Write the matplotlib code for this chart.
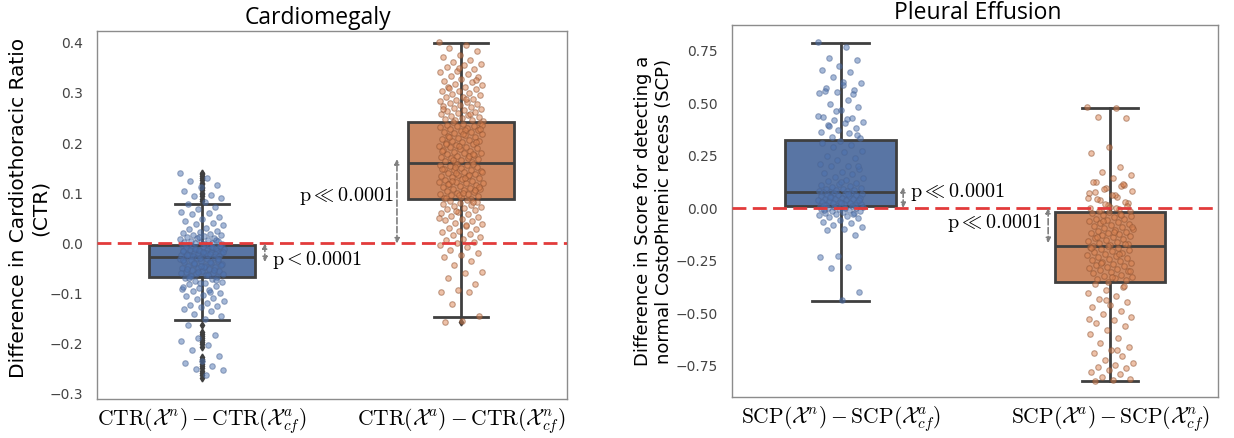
import numpy as np
import matplotlib.pyplot as plt

plt.rcParams['mathtext.fontset'] = 'cm'
plt.rcParams['font.family'] = 'DejaVu Sans'

# ---- data ----
ctr_labels = [r'$\mathrm{CTR}(\mathcal{X}^n) - \mathrm{CTR}(\mathcal{X}^a_{cf})$',
              r'$\mathrm{CTR}(\mathcal{X}^a) - \mathrm{CTR}(\mathcal{X}^n_{cf})$']
scp_labels = [r'$\mathrm{SCP}(\mathcal{X}^n) - \mathrm{SCP}(\mathcal{X}^a_{cf})$',
              r'$\mathrm{SCP}(\mathcal{X}^a) - \mathrm{SCP}(\mathcal{X}^n_{cf})$']

# box stats: whislo, q1, med, q3, whishi
ctr_n_box = [-0.152, -0.066, -0.027, -0.003, 0.078]
ctr_a_box = [-0.146, 0.088, 0.160, 0.242, 0.400]
scp_n_box = [-0.443, 0.010, 0.076, 0.324, 0.786]
scp_a_box = [-0.824, -0.352, -0.181, -0.019, 0.476]

ctr_n_fliers = [0.085, 0.089, 0.094, 0.099, 0.101, 0.106, 0.111, 0.113, 0.118, 0.121, 0.127,
                0.13, 0.134, 0.138, 0.141, -0.162, -0.176, -0.181, -0.184, -0.188, -0.193,
                -0.197, -0.201, -0.206, -0.226, -0.231, -0.234, -0.24, -0.244, -0.249,
                -0.254, -0.258, -0.263, -0.268]
ctr_a_fliers = [-0.156]
scp_n_fliers = []
scp_a_fliers = []

ctr_n_pts = [0.14, 0.131, 0.124, 0.117, 0.113, 0.105, 0.097, 0.094, 0.09, 0.083, 0.078, 0.072,
             0.068, 0.063, 0.06, 0.058, 0.052, 0.048, 0.045, 0.041, 0.039, 0.036, 0.031, 0.029,
             0.025, 0.023, 0.021, 0.019, 0.017, 0.016, 0.014, 0.012, 0.011, 0.01, 0.008, 0.006,
             0.005, 0.004, 0.003, 0.002, 0.001, 0.0, -0.001, -0.002, -0.003, 0.007, 0.013,
             -0.004, -0.005, -0.006, -0.006, -0.008, -0.009, -0.01, -0.011, -0.011, -0.013,
             -0.014, -0.015, -0.015, -0.016, -0.018, -0.019, -0.019, -0.02, -0.021, -0.022,
             -0.022, -0.023, -0.024, -0.025, -0.025, -0.026, -0.027, -0.007, -0.012, -0.017,
             -0.02, -0.024, -0.009, -0.013, -0.016, -0.021, -0.026, -0.005, -0.018, -0.023,
             -0.028, -0.029, -0.031, -0.032, -0.034, -0.035, -0.036, -0.038, -0.039, -0.041,
             -0.042, -0.044, -0.045, -0.046, -0.048, -0.049, -0.051, -0.052, -0.054, -0.055,
             -0.057, -0.058, -0.06, -0.061, -0.063, -0.064, -0.066, -0.03, -0.033, -0.037,
             -0.04, -0.043, -0.047, -0.05, -0.053, -0.056, -0.059, -0.062, -0.065, -0.031,
             -0.044, -0.068, -0.071, -0.074, -0.076, -0.078, -0.081, -0.084, -0.088, -0.09,
             -0.092, -0.095, -0.099, -0.102, -0.105, -0.108, -0.111, -0.115, -0.118, -0.122,
             -0.125, -0.127, -0.131, -0.135, -0.14, -0.144, -0.15, -0.162, -0.183, -0.189,
             -0.195, -0.203, -0.212, -0.224, -0.234, -0.238, -0.245, -0.251, -0.253, -0.262,
             -0.068, -0.073, -0.079, -0.086, -0.097]

ctr_a_pts = [0.401, 0.396, 0.39, 0.383, 0.376, 0.372, 0.366, 0.362, 0.357, 0.355, 0.351, 0.347,
             0.343, 0.341, 0.337, 0.333, 0.331, 0.328, 0.324, 0.322, 0.318, 0.316, 0.312, 0.311,
             0.308, 0.304, 0.303, 0.3, 0.298, 0.296, 0.292, 0.291, 0.288, 0.285, 0.284, 0.282,
             0.279, 0.277, 0.275, 0.273, 0.272, 0.27, 0.267, 0.265, 0.264, 0.262, 0.259, 0.258,
             0.256, 0.253, 0.252, 0.25, 0.248, 0.246, 0.245, 0.243, 0.287, 0.309, 0.326, 0.349,
             0.268, 0.257,
             0.241, 0.239, 0.238, 0.236, 0.234, 0.233, 0.231, 0.229, 0.227, 0.226, 0.224, 0.222,
             0.221, 0.219, 0.217, 0.216, 0.214, 0.212, 0.21, 0.209, 0.207, 0.205, 0.204, 0.202,
             0.2, 0.198, 0.197, 0.195, 0.193, 0.192, 0.19, 0.188, 0.186, 0.185, 0.183, 0.181,
             0.18, 0.178, 0.176, 0.175, 0.173, 0.171, 0.17, 0.168, 0.166, 0.165, 0.163, 0.161,
             0.235, 0.225, 0.213, 0.203, 0.194, 0.184, 0.174, 0.167, 0.228, 0.218, 0.199, 0.179,
             0.159, 0.157, 0.156, 0.154, 0.152, 0.151, 0.149, 0.147, 0.146, 0.144, 0.142, 0.141,
             0.139, 0.137, 0.135, 0.134, 0.132, 0.13, 0.128, 0.127, 0.125, 0.123, 0.121, 0.12,
             0.118, 0.116, 0.115, 0.113, 0.111, 0.109, 0.108, 0.106, 0.104, 0.103, 0.101, 0.099,
             0.098, 0.096, 0.094, 0.093, 0.091, 0.089, 0.153, 0.143, 0.131, 0.119, 0.107, 0.097,
             0.148, 0.136, 0.124, 0.112, 0.1, 0.09, 0.158, 0.14, 0.122,
             0.087, 0.085, 0.083, 0.08, 0.078, 0.076, 0.074, 0.072, 0.07, 0.068, 0.066, 0.063,
             0.061, 0.058, 0.055, 0.053, 0.049, 0.047, 0.044, 0.041, 0.038, 0.035, 0.031, 0.028,
             0.025, 0.022, 0.019, 0.016, 0.012, 0.009, 0.006, 0.003, 0.0, -0.004, -0.008, -0.014,
             -0.019, -0.023, -0.027, -0.035, -0.043, -0.057, -0.058, -0.068, -0.081, -0.092,
             -0.096, -0.097, -0.121, -0.144, -0.154, -0.156, 0.082, 0.064, 0.051, 0.036]

scp_n_pts = [0.79, 0.767, 0.714, 0.705, 0.676, 0.657, 0.648, 0.624, 0.595, 0.586, 0.571, 0.562,
             0.552, 0.548, 0.514, 0.495, 0.481, 0.467, 0.433, 0.429, 0.419, 0.41, 0.405, 0.395,
             0.381, 0.371, 0.362, 0.357, 0.338, 0.333, 0.598, 0.556, 0.541, 0.463, 0.44, 0.425,
             0.39, 0.346,
             0.32, 0.31, 0.298, 0.29, 0.27, 0.265, 0.25, 0.24, 0.228, 0.21, 0.2, 0.198, 0.185,
             0.172, 0.165, 0.16, 0.15, 0.142, 0.135, 0.128, 0.12, 0.115, 0.11, 0.105, 0.1, 0.097,
             0.093, 0.09, 0.087, 0.084, 0.081, 0.079, 0.077, 0.2, 0.125,
             0.075, 0.073, 0.071, 0.069, 0.066, 0.064, 0.062, 0.06, 0.057, 0.055, 0.052, 0.05,
             0.048, 0.045, 0.043, 0.041, 0.038, 0.036, 0.034, 0.031, 0.029, 0.027, 0.025, 0.022,
             0.02, 0.018, 0.016, 0.014, 0.012, 0.011, 0.067, 0.053, 0.039, 0.024, 0.013,
             0.008, 0.006, 0.004, 0.002, 0.0, -0.002, -0.004, -0.006, -0.009, -0.012, -0.015,
             -0.019, -0.022, -0.024, -0.028, -0.033, -0.038, -0.044, -0.048, -0.055, -0.067,
             -0.071, -0.081, -0.09, -0.1, -0.105, -0.129, -0.229, -0.233, -0.281, -0.286, -0.4,
             -0.438, -0.01, -0.03]

scp_a_pts = [0.481, 0.476, 0.433, 0.429, 0.29, 0.262, 0.195, 0.171, 0.157, 0.143, 0.124, 0.11,
             0.095, 0.071, 0.052, 0.038, 0.024, 0.005, 0.125, 0.105, 0.09, 0.08, 0.062, 0.045,
             0.03, 0.015, 0.0, -0.005, -0.01, -0.015, 0.06, 0.074, 0.115, 0.02, 0.048, -0.002,
             -0.012, 0.008,
             -0.02, -0.025, -0.03, -0.035, -0.04, -0.045, -0.05, -0.054, -0.058, -0.063, -0.068,
             -0.072, -0.077, -0.082, -0.086, -0.09, -0.095, -0.1, -0.104, -0.108, -0.112, -0.117,
             -0.121, -0.126, -0.13, -0.135, -0.14, -0.144, -0.148, -0.153, -0.158, -0.162,
             -0.166, -0.171, -0.175, -0.179, -0.032, -0.06, -0.092, -0.115, -0.14, -0.17,
             -0.183, -0.187, -0.191, -0.196, -0.2, -0.205, -0.21, -0.214, -0.218, -0.223, -0.228,
             -0.232, -0.237, -0.241, -0.246, -0.25, -0.255, -0.26, -0.265, -0.27, -0.275, -0.28,
             -0.285, -0.29, -0.295, -0.3, -0.306, -0.311, -0.317, -0.322, -0.328, -0.334, -0.34,
             -0.345, -0.35, -0.19, -0.22, -0.26, -0.3, -0.33,
             -0.36, -0.376, -0.39, -0.405, -0.42, -0.435, -0.448, -0.46, -0.471, -0.49, -0.505,
             -0.519, -0.533, -0.548, -0.56, -0.58, -0.6, -0.62, -0.643, -0.662, -0.676, -0.69,
             -0.705, -0.724, -0.738, -0.748, -0.757, -0.762, -0.771, -0.78, -0.79, -0.805,
             -0.812, -0.819, -0.825, -0.37, -0.44, -0.53, -0.676]

box_colors = ['#5975a4', '#cc8963']
pt_colors = ['#4c72b0', '#dd8452']
pt_edges = ['#4a6391', '#8a4f2f']
dark = '#3f3f3f'


def draw_panel(ax, boxes, fliers, pts, labels):
    stats = []
    for b, f in zip(boxes, fliers):
        stats.append(dict(whislo=b[0], q1=b[1], med=b[2], q3=b[3], whishi=b[4], fliers=f))
    bp = ax.bxp(stats, positions=[0, 1], widths=0.41, capwidths=0.21, patch_artist=True,
                boxprops=dict(edgecolor=dark, linewidth=2),
                medianprops=dict(color=dark, linewidth=2),
                whiskerprops=dict(color=dark, linewidth=2),
                capprops=dict(color=dark, linewidth=2),
                flierprops=dict(marker='d', markersize=3.5, markerfacecolor=dark,
                                markeredgecolor=dark))
    for patch, c in zip(bp['boxes'], box_colors):
        patch.set_facecolor(c)
    # points, spread sideways like a strip plot
    for i, p in enumerate(pts):
        p = np.asarray(p)
        jit = ((np.arange(len(p)) * 0.618034) % 1 - 0.5) * 0.17
        ax.scatter(i + jit, p, s=16, facecolor=pt_colors[i], edgecolor=pt_edges[i],
                   linewidth=0.8, alpha=0.5, zorder=3)
    ax.axhline(0, color='#e23b3b', linestyle=(0, (5, 2.3)), linewidth=2, zorder=5)
    ax.set_xticks([0, 1])
    ax.set_xticklabels(labels, fontsize=15.5)
    ax.tick_params(axis='x', length=0, pad=5)
    ax.tick_params(axis='y', length=0, pad=10, labelsize=10, labelcolor='#444444')
    for s in ax.spines.values():
        s.set_color('#8c8c8c')
        s.set_linewidth(1)


def p_arrow(ax, x, y0, y1):
    ax.annotate('', xy=(x, y1), xytext=(x, y0),
                arrowprops=dict(arrowstyle='<|-|>', linestyle='--', color='#808080',
                                lw=1.2, mutation_scale=7, shrinkA=0, shrinkB=0), zorder=6)


fig = plt.figure(figsize=(12.34, 4.38), dpi=100)
ax1 = fig.add_axes([0.0786, 0.089, 0.381, 0.840])
ax2 = fig.add_axes([0.5932, 0.0936, 0.3938, 0.849])

draw_panel(ax1, [ctr_n_box, ctr_a_box], [ctr_n_fliers, ctr_a_fliers],
           [ctr_n_pts, ctr_a_pts], ctr_labels)
ax1.set_xlim(-0.405, 1.41)
ax1.set_ylim(-0.31, 0.423)
ax1.set_yticks([-0.3, -0.2, -0.1, 0.0, 0.1, 0.2, 0.3, 0.4])
ax1.set_ylabel('Difference in Cardiothoracic Ratio\n(CTR)', fontsize=14.5)
ax1.yaxis.set_label_coords(-0.1, 0.52)
ax1.set_title('Cardiomegaly', fontsize=16.5, family='Open Sans', x=0.47, pad=5)
p_arrow(ax1, 0.243, 0.0, -0.037)
ax1.text(0.27, -0.033, r'$\mathrm{p} < 0.0001$', fontsize=14.5, ha='left', va='center')
p_arrow(ax1, 0.753, 0.0, 0.168)
ax1.text(0.741, 0.094, r'$\mathrm{p} \ll 0.0001$', fontsize=14.5, ha='right', va='center')

draw_panel(ax2, [scp_n_box, scp_a_box], [scp_n_fliers, scp_a_fliers],
           [scp_n_pts, scp_a_pts], scp_labels)
ax2.set_xlim(-0.403, 1.40)
ax2.set_ylim(-0.9, 0.871)
ax2.set_yticks([-0.75, -0.5, -0.25, 0.0, 0.25, 0.5, 0.75])
ax2.set_ylabel('Difference in Score for detecting a\nnormal CostoPhrenic recess (SCP)',
               fontsize=13)
ax2.yaxis.set_label_coords(-0.122, 0.5)
ax2.set_title('Pleural Effusion', fontsize=16.5, family='Open Sans', x=0.506, pad=3)
p_arrow(ax2, 0.232, 0.0, 0.1)
ax2.text(0.258, 0.076, r'$\mathrm{p} \ll 0.0001$', fontsize=14.5, ha='left', va='center')
p_arrow(ax2, 0.77, 0.0, -0.167)
ax2.text(0.748, -0.071, r'$\mathrm{p} \ll 0.0001$', fontsize=14.5, ha='right', va='center')

fig.savefig('out.png', dpi=100)
